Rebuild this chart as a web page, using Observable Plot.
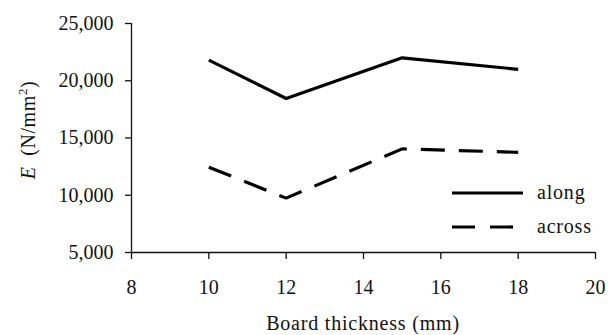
<!DOCTYPE html>
<html>
<head>
<meta charset="utf-8">
<script src="https://cdn.jsdelivr.net/npm/d3@7"></script>
<script src="https://cdn.jsdelivr.net/npm/@observablehq/plot@0.6"></script>
<style>
  body { margin: 0; background: #fff; }
  #chart { width: 612px; height: 335px; }
  #chart svg text { font-family: "Liberation Serif", "Times New Roman", serif; }
  #chart svg g[aria-label="y-axis tick label"],
  #chart svg g[aria-label="x-axis tick label"] { font-size: 20px; }
</style>
</head>
<body>
<div id="chart"></div>
<script>
// Modulus of elasticity by board thickness, along and across the grain
const thickness = [10, 12, 15, 18];
const along = [21800, 18450, 22000, 21000];
const across = [12450, 9750, 14050, 13750];
const seriesNames = ["along", "across"];
const xTicks = [8, 10, 12, 14, 16, 18, 20];
const yTicks = [5000, 10000, 15000, 20000, 25000];

const values = {along, across};
const dashes = {along: null, across: "24,14"};
const rows = seriesNames.flatMap(s => thickness.map((t, i) => ({t, E: values[s][i], series: s})));

const font = "Liberation Serif, Times New Roman, serif";

const plot = Plot.plot({
  width: 612,
  height: 335,
  marginLeft: 131,
  marginRight: 17,
  marginTop: 23,
  marginBottom: 83,
  style: {fontFamily: font, fontSize: "20px", color: "#111", background: "white", overflow: "visible"},
  x: {domain: [8, 20]},
  y: {domain: [5000, 25000]},
  marks: [
    Plot.axisY({ticks: yTicks, tickSize: 6, tickPadding: 12, tickFormat: d3.format(","), label: null, strokeWidth: 1.3, fontSize: 20}),
    Plot.axisX({ticks: xTicks, tickSize: 7, tickPadding: 20, tickFormat: d => String(d), label: null, strokeWidth: 1.3, fontSize: 20}),
    Plot.ruleX([8], {strokeWidth: 1.3}),
    Plot.ruleY([5000], {strokeWidth: 1.3}),
    ...seriesNames.map(s => Plot.line(rows.filter(d => d.series === s), {
      x: "t", y: "E", stroke: "#000", strokeWidth: 3.2,
      strokeDasharray: dashes[s], strokeLinecap: "butt", strokeLinejoin: "miter"
    }))
  ]
});

document.getElementById("chart").appendChild(plot);

const svg = d3.select(plot);
const xr = plot.scale("x").range;

// x-axis title
svg.append("text")
  .attr("x", (xr[0] + xr[1]) / 2)
  .attr("y", 330)
  .attr("text-anchor", "middle")
  .attr("font-size", 20)
  .attr("letter-spacing", "0.8px")
  .attr("fill", "#111")
  .text("Board thickness (mm)");

// y-axis title: E (N/mm²)
const yt = svg.append("text")
  .attr("transform", "translate(35,130) rotate(-90)")
  .attr("text-anchor", "middle")
  .attr("font-size", 20)
  .attr("letter-spacing", "0.6px")
  .attr("fill", "#111");
yt.append("tspan").attr("font-style", "italic").text("E");
yt.append("tspan").text("\u2002(N/mm");
yt.append("tspan").attr("font-size", 13).attr("dy", -8).text("2");
yt.append("tspan").attr("dy", 8).text(")");

// legend
const legend = svg.append("g");
seriesNames.forEach((s, i) => {
  const y = 193 + i * 34;
  legend.append("line")
    .attr("x1", 452).attr("x2", 523).attr("y1", y).attr("y2", y)
    .attr("stroke", "#000").attr("stroke-width", 3.2)
    .attr("stroke-dasharray", dashes[s] ? "23,15" : null);
  legend.append("text")
    .attr("x", 537).attr("y", y).attr("dy", "0.3em")
    .attr("text-anchor", "start")
    .attr("font-size", 20)
    .attr("letter-spacing", "0.8px")
    .attr("fill", "#111")
    .text(s);
});
</script>
</body>
</html>
